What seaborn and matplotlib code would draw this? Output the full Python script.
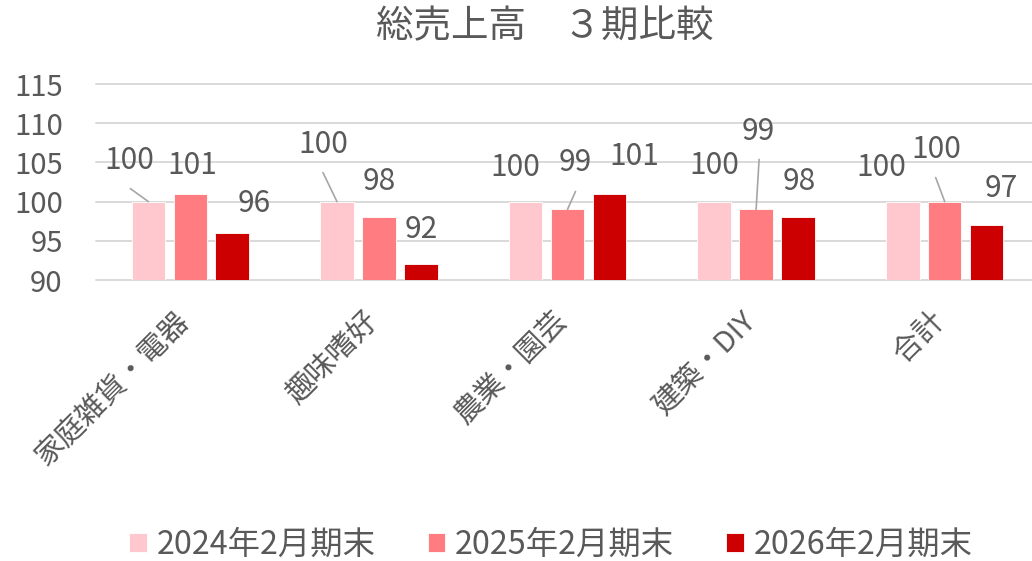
import matplotlib
matplotlib.use('Agg')
import matplotlib.pyplot as plt
import matplotlib.transforms as mtransforms
import seaborn as sns
import pandas as pd

# ---- data ----
categories = ['家庭雑貨・電器', '趣味嗜好', '農業・園芸', '建築・DIY', '合計']
periods = ['2024年2月期末', '2025年2月期末', '2026年2月期末']
values_2024 = [100, 100, 100, 100, 100]
values_2025 = [101, 98, 99, 99, 100]
values_2026 = [96, 92, 101, 98, 97]
y_ticks = [90, 95, 100, 105, 110, 115]
title = '総売上高　３期比較'

# ---- style ----
colors = ['#FFC7CE', '#FF7C80', '#CC0000']
text_color = '#595959'
grid_color = '#D9D9D9'

# label offsets (pixels, relative to bar top centre) per series / category
label_offsets = [
    [(-19, 44), (-14, 60), (-10, 37), (0, 39), (-21, 37)],
    [(2, 31), (0, 39), (8, 50), (2, 81), (-8, 55)],
    [(22, 32), (0, 38), (25, 40), (1, 39), (15, 40)],
]
# leader lines: (series, category) -> start offset (pixels)
leaders = {(0, 0): (-18, 13), (0, 1): (-14, 29), (1, 2): (8, 18),
           (1, 3): (3, 50), (1, 4): (-9, 24)}

df = pd.DataFrame({
    'category': categories * 3,
    'period': [p for p in periods for _ in categories],
    'value': values_2024 + values_2025 + values_2026,
})

sns.set_theme(style='white')
plt.rcParams['font.family'] = ['Noto Sans CJK JP', 'DejaVu Sans']

W, H = 1032, 561
fig = plt.figure(figsize=(W / 100, H / 100), dpi=100)
ax = fig.add_axes([96 / W, (H - 280) / H, (W - 96) / W, 196 / H])

sns.barplot(data=df, x='category', y='value', hue='period', palette=colors,
            saturation=1, width=0.667, gap=0.2, ax=ax, legend=True,
            edgecolor='white', linewidth=0.6)

ax.set_ylim(y_ticks[0], y_ticks[-1])
ax.set_xlim(-0.5, -0.5 + (W - 96) / 188.6)
ax.set_yticks(y_ticks)
ax.set_yticklabels([str(v) for v in y_ticks])
ax.yaxis.grid(True, color=grid_color, linewidth=1.4)
for gl in ax.get_ygridlines():
    gl.set_clip_on(False)
ax.set_axisbelow(True)
for s in ax.spines.values():
    s.set_visible(False)
ax.set_xlabel('')
ax.set_ylabel('')
ax.tick_params(axis='y', length=0, pad=24, labelsize=21, labelcolor=text_color)
ax.tick_params(axis='x', length=0, pad=19, labelsize=21, labelcolor=text_color)
ax.set_xticks(range(len(categories)))
ax.set_xticklabels(categories, rotation=45, ha='right', va='top')
shift = mtransforms.ScaledTranslation(6 / 100, 0, fig.dpi_scale_trans)
for lbl in ax.get_xticklabels():
    lbl.set_transform(lbl.get_transform() + shift)

# data labels
series_vals = [values_2024, values_2025, values_2026]
for si, cont in enumerate(ax.containers):
    for ci, p in enumerate(cont.patches):
        x = p.get_x() + p.get_width() / 2
        y = p.get_y() + p.get_height()
        dx, dy = label_offsets[si][ci]
        ax.annotate(str(series_vals[si][ci]), xy=(x, y), xytext=(dx, dy - 11.5),
                    textcoords='offset pixels', ha='center', va='baseline',
                    fontsize=21.5, color=text_color, annotation_clip=False)
        if (si, ci) in leaders:
            lx, ly = leaders[(si, ci)]
            ax.annotate('', xy=(x, y), xytext=(lx, ly), textcoords='offset pixels',
                        arrowprops=dict(arrowstyle='-', color='#A6A6A6', lw=1.2,
                                        shrinkA=0, shrinkB=0),
                        annotation_clip=False)

# legend
handles, labels = ax.get_legend_handles_labels()
if ax.get_legend() is not None:
    ax.get_legend().remove()
fig.legend(handles, labels, loc='center', bbox_to_anchor=(551 / W, 1 - 545 / H),
           ncol=3, frameon=False, fontsize=23.3, handlelength=0.55, handleheight=0.55,
           handletextpad=0.3, columnspacing=1.6, labelcolor=text_color)

fig.text(545 / W, 1 - 27 / H, title, ha='center', va='center', fontsize=27,
         color=text_color)

fig.savefig('out.png', dpi=100)
